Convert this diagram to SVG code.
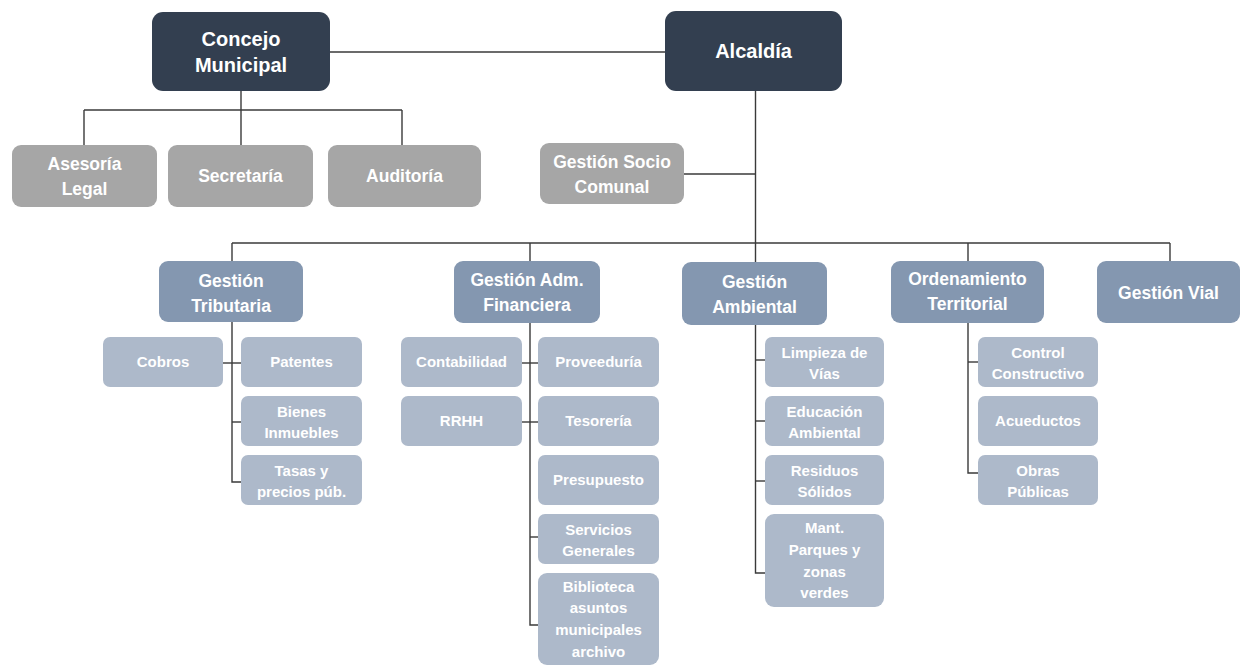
<svg xmlns="http://www.w3.org/2000/svg" width="1241" height="667" viewBox="0 0 1241 667">
<style>
  .l1 { fill: #333F50; }
  .gr { fill: #A6A6A6; }
  .l2 { fill: #8497B0; }
  .l3 { fill: #ADB9CA; }
  text { font-family: "Liberation Sans", Arial, sans-serif; font-weight: bold; fill: #FFFFFF; text-anchor: middle; }
  .t1 { font-size: 20px; }
  .tg { font-size: 17.5px; }
  .t2 { font-size: 17.5px; }
  .t3 { font-size: 15px; }
  .conn path { fill: none; stroke: #3A3A3A; stroke-width: 1.4; }
</style>
<rect width="1241" height="667" fill="#FFFFFF"/>
<g class="conn" id="connectors">
  <path d="M330 52 H665"/>
  <path d="M241 91 V145"/>
  <path d="M84 110 H402"/>
  <path d="M84 110 V145"/>
  <path d="M402 110 V145"/>
  <path d="M755.5 91 V262"/>
  <path d="M684 174 H755.5"/>
  <path d="M232 243 H1170"/>
  <path d="M232 243 V261"/>
  <path d="M530 243 V261"/>
  <path d="M968 243 V261"/>
  <path d="M1170 243 V261"/>
  <path d="M232 322 V482 H241"/>
  <path d="M223 363 H241"/>
  <path d="M232 422 H241"/>
  <path d="M530 323 V625 H538"/>
  <path d="M522 363 H538"/>
  <path d="M522 422 H538"/>
  <path d="M530 537 H538"/>
  <path d="M755.5 325 V573 H765"/>
  <path d="M755.5 360 H765"/>
  <path d="M755.5 421 H765"/>
  <path d="M755.5 481 H765"/>
  <path d="M968 323 V473 H978"/>
  <path d="M968 362 H978"/>
</g>
<g id="concejo"><rect class="l1" x="152" y="12" width="178" height="79" rx="11"/><text class="t1" x="241" y="46">Concejo</text><text class="t1" x="241" y="72">Municipal</text></g>
<g id="alcaldia"><rect class="l1" x="665" y="11" width="177" height="80" rx="11"/><text class="t1" x="753.5" y="58">Alcaldía</text></g>
<g id="asesoria"><rect class="gr" x="12" y="145" width="145" height="62" rx="9"/><text class="tg" x="84.5" y="170">Asesoría</text><text class="tg" x="84.5" y="195">Legal</text></g>
<g id="secretaria"><rect class="gr" x="168" y="145" width="145" height="62" rx="9"/><text class="tg" x="240.5" y="182">Secretaría</text></g>
<g id="auditoria"><rect class="gr" x="328" y="145" width="153" height="62" rx="9"/><text class="tg" x="404.5" y="182">Auditoría</text></g>
<g id="socio"><rect class="gr" x="540" y="143" width="144" height="61" rx="9"/><text class="tg" x="612" y="168">Gestión Socio</text><text class="tg" x="612" y="193">Comunal</text></g>
<g id="tributaria"><rect class="l2" x="159" y="261" width="144" height="61" rx="9"/><text class="t2" x="231" y="287">Gestión</text><text class="t2" x="231" y="312">Tributaria</text></g>
<g id="financiera"><rect class="l2" x="454" y="261" width="146" height="62" rx="9"/><text class="t2" x="527" y="286">Gestión Adm.</text><text class="t2" x="527" y="311">Financiera</text></g>
<g id="ambiental"><rect class="l2" x="682" y="262" width="145" height="63" rx="9"/><text class="t2" x="754.5" y="288">Gestión</text><text class="t2" x="754.5" y="313">Ambiental</text></g>
<g id="ordenamiento"><rect class="l2" x="891" y="261" width="153" height="62" rx="9"/><text class="t2" x="967.5" y="285">Ordenamiento</text><text class="t2" x="967.5" y="310">Territorial</text></g>
<g id="vial"><rect class="l2" x="1097" y="261" width="143" height="62" rx="9"/><text class="t2" x="1168.5" y="299">Gestión Vial</text></g>
<g id="cobros"><rect class="l3" x="103" y="337" width="120" height="50" rx="7"/><text class="t3" x="163" y="367">Cobros</text></g>
<g id="patentes"><rect class="l3" x="241" y="337" width="121" height="50" rx="7"/><text class="t3" x="301.5" y="367">Patentes</text></g>
<g id="bienes"><rect class="l3" x="241" y="396" width="121" height="50" rx="7"/><text class="t3" x="301.5" y="417">Bienes</text><text class="t3" x="301.5" y="438">Inmuebles</text></g>
<g id="tasas"><rect class="l3" x="241" y="455" width="121" height="50" rx="7"/><text class="t3" x="301.5" y="476">Tasas y</text><text class="t3" x="301.5" y="497">precios púb.</text></g>
<g id="contabilidad"><rect class="l3" x="401" y="337" width="121" height="50" rx="7"/><text class="t3" x="461.5" y="367">Contabilidad</text></g>
<g id="rrhh"><rect class="l3" x="401" y="396" width="121" height="50" rx="7"/><text class="t3" x="461.5" y="426">RRHH</text></g>
<g id="proveeduria"><rect class="l3" x="538" y="337" width="121" height="50" rx="7"/><text class="t3" x="598.5" y="367">Proveeduría</text></g>
<g id="tesoreria"><rect class="l3" x="538" y="396" width="121" height="50" rx="7"/><text class="t3" x="598.5" y="426">Tesorería</text></g>
<g id="presupuesto"><rect class="l3" x="538" y="455" width="121" height="50" rx="7"/><text class="t3" x="598.5" y="485">Presupuesto</text></g>
<g id="servicios"><rect class="l3" x="538" y="514" width="121" height="50" rx="7"/><text class="t3" x="598.5" y="535">Servicios</text><text class="t3" x="598.5" y="556">Generales</text></g>
<g id="biblioteca"><rect class="l3" x="538" y="573" width="121" height="92" rx="9"/><text class="t3" x="598.5" y="592">Biblioteca</text><text class="t3" x="598.5" y="613">asuntos</text><text class="t3" x="598.5" y="635">municipales</text><text class="t3" x="598.5" y="657">archivo</text></g>
<g id="limpieza"><rect class="l3" x="765" y="337" width="119" height="50" rx="7"/><text class="t3" x="824.5" y="358">Limpieza de</text><text class="t3" x="824.5" y="379">Vías</text></g>
<g id="educacion"><rect class="l3" x="765" y="396" width="119" height="50" rx="7"/><text class="t3" x="824.5" y="417">Educación</text><text class="t3" x="824.5" y="438">Ambiental</text></g>
<g id="residuos"><rect class="l3" x="765" y="455" width="119" height="50" rx="7"/><text class="t3" x="824.5" y="476">Residuos</text><text class="t3" x="824.5" y="497">Sólidos</text></g>
<g id="mant"><rect class="l3" x="765" y="514" width="119" height="93" rx="9"/><text class="t3" x="824.5" y="533">Mant.</text><text class="t3" x="824.5" y="555">Parques y</text><text class="t3" x="824.5" y="577">zonas</text><text class="t3" x="824.5" y="598">verdes</text></g>
<g id="control"><rect class="l3" x="978" y="337" width="120" height="50" rx="7"/><text class="t3" x="1038" y="358">Control</text><text class="t3" x="1038" y="379">Constructivo</text></g>
<g id="acueductos"><rect class="l3" x="978" y="396" width="120" height="50" rx="7"/><text class="t3" x="1038" y="426">Acueductos</text></g>
<g id="obras"><rect class="l3" x="978" y="455" width="120" height="50" rx="7"/><text class="t3" x="1038" y="476">Obras</text><text class="t3" x="1038" y="497">Públicas</text></g>
</svg>
